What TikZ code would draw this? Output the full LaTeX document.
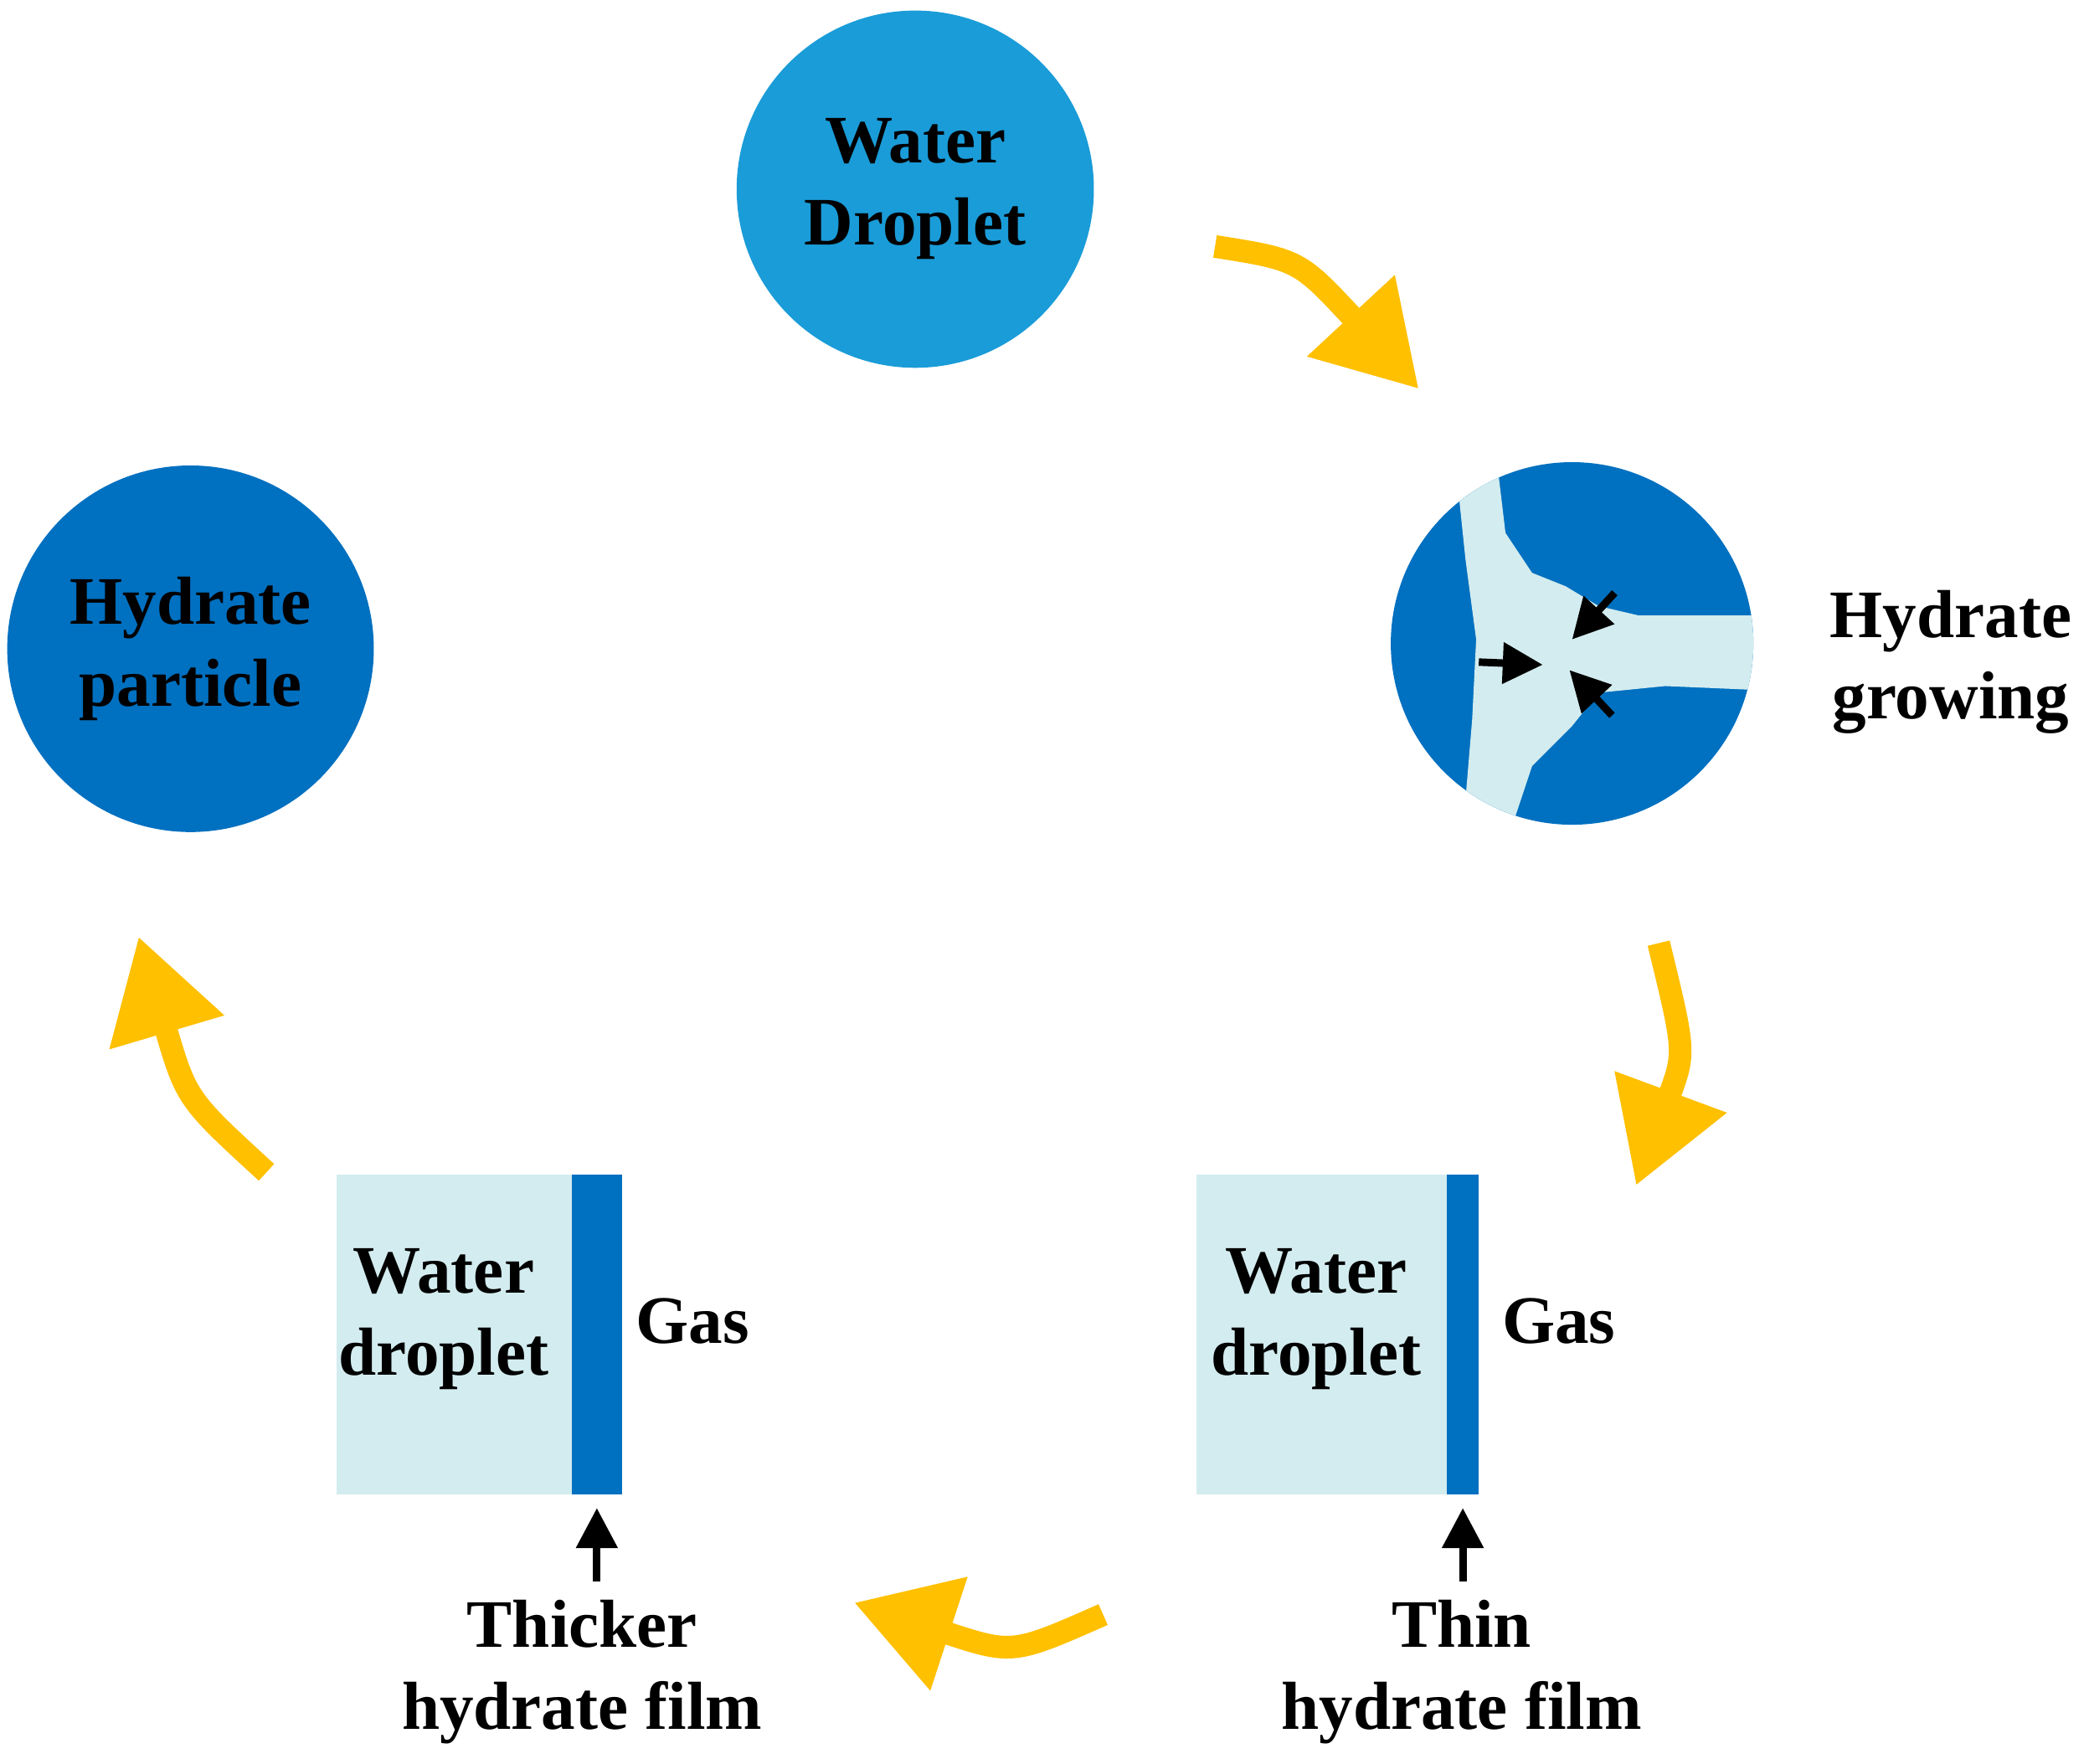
\documentclass[tikz,border=0pt]{standalone}
\usepackage{fontspec}
\setmainfont{Liberation Serif}
\usetikzlibrary{arrows.meta}
\definecolor{lblue}{HTML}{1A9CD8}
\definecolor{dblue}{HTML}{0070C0}
\definecolor{pale}{HTML}{D3ECEF}
\definecolor{gold}{HTML}{FFC000}
\begin{document}
\begin{tikzpicture}[x=0.01cm,y=-0.01cm,
  lbl/.style={font=\fontsize{14.5}{17.5}\selectfont\bfseries,align=center,inner sep=0},
  yarr/.style={draw=gold,line width=0.17cm,-{Triangle[length=0.75cm,width=0.85cm]}},
  barr/.style={line width=1.6pt,-{Triangle[length=0.3cm,width=0.3cm]}}]
\useasboundingbox[fill=white] (0,0) rectangle (1568,1324);
% circles
\node[circle,fill=lblue,minimum size=2.68cm,inner sep=0,lbl] (wd) at (687,142) {Water\\Droplet};
\node[circle,fill=dblue,minimum size=2.75cm,inner sep=0,lbl] (hp) at (143,487) {Hydrate\\particle};
\node[circle,fill=dblue,minimum size=2.72cm,inner sep=0] (hg) at (1180,483) {};
\begin{scope}
\clip (hg.center) circle (1.36cm);
\fill[pale] (1095,372)--(1125,358)--(1130,400)--(1150,430)--(1175,440)--(1200,455)--(1230,462)--(1320,462)--(1320,518)--(1250,515)--(1200,520)--(1180,545)--(1150,575)--(1135,620)--(1100,600)--(1105,540)--(1108,480)--(1100,420)--cycle;
\end{scope}
\coordinate (g1) at (1110,497); \coordinate (g1e) at (1158,499);
\coordinate (g2) at (1212,445); \coordinate (g2e) at (1180,480);
\coordinate (g3) at (1210,537); \coordinate (g3e) at (1178,503);
\draw[barr] (g1)--(g1e); \draw[barr] (g2)--(g2e); \draw[barr] (g3)--(g3e);
\node[lbl,anchor=west] (hgt) at (1373,497) {Hydrate\\growing};
% right box
\node[fill=pale,minimum width=1.9cm,minimum height=2.4cm,inner sep=0] (rb) at (993,1002) {};
\node[fill=dblue,minimum width=0.24cm,minimum height=2.4cm,inner sep=0] (rf) at (1098,1002) {};
\node[lbl] (rw) at (988,990) {Water\\droplet};
\node[lbl] (rg) at (1170,992) {Gas};
\node[lbl] (rt) at (1097,1255) {Thin\\hydrate film};
\draw[barr] (rt.north) ++(0,-0.02) coordinate (rts) (1098,1187) -- (1098,1132);
% left box
\node[fill=pale,minimum width=1.77cm,minimum height=2.4cm,inner sep=0] (lb) at (341,1002) {};
\node[fill=dblue,minimum width=0.38cm,minimum height=2.4cm,inner sep=0] (lf) at (448,1002) {};
\node[lbl] (lw) at (333,990) {Water\\droplet};
\node[lbl] (lg) at (520,992) {Gas};
\node[lbl] (lt) at (437,1255) {Thicker\\hydrate film};
\draw[barr] (448,1187) -- (448,1132);
% yellow arrows
\coordinate (a1) at (912,185); \coordinate (a1e) at (1065,292);
\coordinate (a2) at (1245,708); \coordinate (a2e) at (1228,890);
\coordinate (a3) at (828,1212); \coordinate (a3e) at (641,1203);
\coordinate (a4) at (200,880); \coordinate (a4e) at (104,703);
\draw[yarr] (a1) .. controls (975,195) .. (a1e);
\draw[yarr] (a2) .. controls (1265,790) .. (a2e);
\draw[yarr] (a3) .. controls (760,1242) .. (a3e);
\draw[yarr] (a4) .. controls (140,825) .. (a4e);
\end{tikzpicture}
\end{document}
